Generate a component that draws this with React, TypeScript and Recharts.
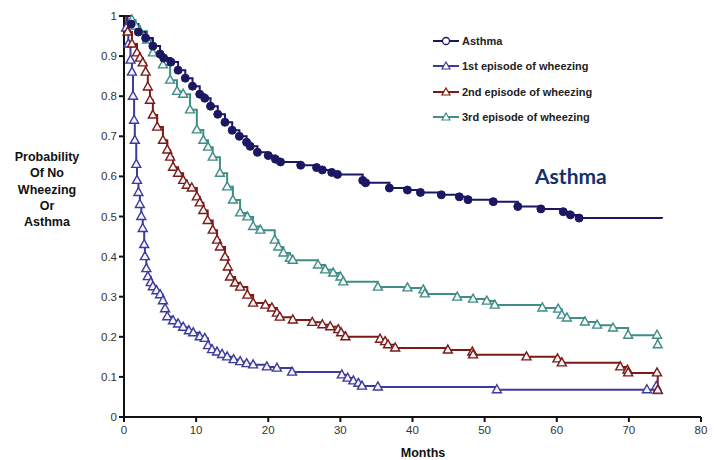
import { LineChart, Line, XAxis, YAxis, Legend } from "recharts";

// Kaplan-Meier style curves, [month, probability]
const asthma: [number, number][] = [
  [0, 1.0], [1, 0.98], [2, 0.96], [3, 0.945], [4, 0.925], [5, 0.905], [5.5, 0.895],
  [6.5, 0.885], [7.5, 0.865], [8.5, 0.845], [9.5, 0.825], [10.5, 0.805], [11.2, 0.795],
  [12, 0.775], [13, 0.755], [14, 0.735], [15, 0.715], [16, 0.7], [17, 0.685], [17.5, 0.675],
  [18.5, 0.66], [20, 0.652], [21, 0.643], [21.7, 0.636], [24.5, 0.628], [26.7, 0.622],
  [27.5, 0.616], [28.8, 0.61], [29.6, 0.605], [33.1, 0.59], [33.5, 0.584], [36.8, 0.571],
  [39.3, 0.566], [41.1, 0.56], [44, 0.554], [46.5, 0.549], [47.7, 0.542], [51.2, 0.537],
  [54.6, 0.525], [57.8, 0.519], [60.9, 0.512], [61.9, 0.504], [63.1, 0.496], [74.6, 0.495],
];

const firstEpisode: [number, number][] = [
  [0, 1.0], [0.3, 0.97], [0.6, 0.93], [0.9, 0.89], [1.1, 0.86], [1.25, 0.8], [1.4, 0.74],
  [1.5, 0.69], [1.7, 0.63], [1.8, 0.59], [2.0, 0.56], [2.2, 0.53], [2.4, 0.5], [2.6, 0.47],
  [2.8, 0.43], [2.9, 0.4], [3.1, 0.37], [3.3, 0.35], [3.7, 0.335], [4.0, 0.325], [4.5, 0.315],
  [5.0, 0.305], [5.4, 0.29], [5.7, 0.27], [6.0, 0.25], [6.8, 0.24], [7.5, 0.232], [8.2, 0.224],
  [9.0, 0.215], [9.6, 0.21], [10.5, 0.2], [11.2, 0.196], [11.65, 0.178], [12.2, 0.168],
  [12.9, 0.162], [13.6, 0.156], [14.3, 0.15], [15.2, 0.143], [16.1, 0.138], [17.0, 0.133],
  [17.9, 0.13], [19.8, 0.125], [21.2, 0.122], [23.3, 0.112], [30.2, 0.105], [31, 0.097],
  [31.8, 0.09], [32.5, 0.084], [33, 0.077], [35.2, 0.075], [51.7, 0.068], [72.5, 0.068],
  [73.8, 0.076], [74, 0.066],
];

const secondEpisode: [number, number][] = [
  [0, 1.0], [0.5, 0.96], [1.1, 0.93], [1.8, 0.908], [2.2, 0.895], [2.6, 0.883], [3.0, 0.86],
  [3.3, 0.823], [3.6, 0.79], [4.0, 0.753], [4.6, 0.723], [5.4, 0.69], [6.0, 0.666],
  [6.4, 0.648], [6.8, 0.623], [7.5, 0.608], [8.2, 0.59], [8.7, 0.578], [9.4, 0.571],
  [10.1, 0.549], [10.5, 0.534], [11.0, 0.515], [11.6, 0.49], [12.3, 0.466], [12.9, 0.441],
  [13.3, 0.424], [14.0, 0.399], [14.4, 0.374], [14.7, 0.349], [15.4, 0.334], [16.1, 0.324],
  [17.1, 0.304], [17.9, 0.284], [19.6, 0.279], [20.5, 0.272], [21.2, 0.259], [21.6, 0.249],
  [23.4, 0.242], [26.1, 0.236], [27.5, 0.23], [28.6, 0.225], [29.7, 0.218], [30.1, 0.21],
  [30.7, 0.2], [35.5, 0.194], [36.2, 0.188], [36.6, 0.18], [37.6, 0.172], [44.9, 0.167],
  [48.3, 0.162], [48.4, 0.155], [55.8, 0.15], [60.1, 0.145], [60.7, 0.135], [68.8, 0.125],
  [69.8, 0.117], [69.9, 0.11], [73.9, 0.11], [74, 0.067],
];

const thirdEpisode: [number, number][] = [
  [0, 1.0], [1.1, 0.99], [1.6, 0.975], [2.2, 0.962], [3.2, 0.94], [4.0, 0.908], [5.4, 0.878],
  [6.4, 0.84], [7.35, 0.812], [8.2, 0.805], [9.15, 0.766], [10.1, 0.716], [11.0, 0.69],
  [11.65, 0.673], [12.3, 0.648], [13.3, 0.608], [14.3, 0.574], [15.1, 0.541], [16.1, 0.509],
  [17.1, 0.499], [17.9, 0.475], [18.9, 0.466], [20.9, 0.441], [21.4, 0.424], [22.1, 0.409],
  [23.0, 0.396], [23.4, 0.391], [26.9, 0.379], [27.9, 0.367], [29.0, 0.359], [30.0, 0.349],
  [30.4, 0.337], [35.2, 0.324], [39.3, 0.322], [41.5, 0.317], [41.7, 0.307], [46.2, 0.299],
  [48.4, 0.294], [50.3, 0.289], [51.4, 0.279], [58.0, 0.272], [60.2, 0.269], [60.7, 0.254],
  [61.4, 0.247], [63.9, 0.237], [65.6, 0.229], [67.8, 0.222], [69.9, 0.204], [73.9, 0.204],
  [74, 0.18],
];

const xTicks = [0, 10, 20, 30, 40, 50, 60, 70, 80];
const yTicks = [0, 0.1, 0.2, 0.3, 0.4, 0.5, 0.6, 0.7, 0.8, 0.9, 1];
const yTitle = ["Probability", "Of No", "Wheezing", "Or", "Asthma"];

const series = [
  { name: "Asthma", data: asthma, color: "#1c1763", shape: "circle" },
  { name: "1st episode of wheezing", data: firstEpisode, color: "#3d3a9e", shape: "tri" },
  { name: "2nd episode of wheezing", data: secondEpisode, color: "#7c1b16", shape: "tri" },
  { name: "3rd episode of wheezing", data: thirdEpisode, color: "#3f8d85", shape: "tri" },
];

const toRows = (d: [number, number][]) => d.map(([m, p]) => ({ m, p }));

function makeDot(color: string, shape: string, len: number) {
  return (props: any) => {
    const { cx, cy, index } = props;
    if (index === 0 || cx == null) return <g key={index} />;
    if (shape === "circle") {
      if (index === len - 1) return <g key={index} />;
      return <circle key={index} cx={cx} cy={cy} r={4} fill={color} stroke={color} />;
    }
    return (
      <path
        key={index}
        d={`M${cx},${cy - 5}L${cx + 4.5},${cy + 3}L${cx - 4.5},${cy + 3}Z`}
        fill="#f4f4fa"
        stroke={color}
        strokeWidth={1.4}
      />
    );
  };
}

function LegendBox() {
  return (
    <div style={{ fontFamily: "Liberation Sans, Arial, sans-serif", fontWeight: 700, fontSize: 11, color: "#222" }}>
      {series.map((s) => (
        <div key={s.name} style={{ display: "flex", alignItems: "center", height: 25.5 }}>
          <svg width={28} height={12} style={{ marginRight: 2 }}>
            <line x1={1} y1={6} x2={27} y2={6} stroke={s.color} strokeWidth={2} />
            {s.shape === "circle" ? (
              <circle cx={14} cy={6} r={3.5} fill="#fff" stroke={s.color} strokeWidth={1.3} />
            ) : (
              <path d="M14,2L18,9L10,9Z" fill="#fff" stroke={s.color} strokeWidth={1.2} />
            )}
          </svg>
          <span>{s.name}</span>
        </div>
      ))}
    </div>
  );
}

export default function App() {
  const tickStyle = { fill: "#333", fontSize: 11.5, fontFamily: "Liberation Sans, Arial, sans-serif" };
  return (
    <div style={{ position: "absolute", left: 0, top: 0, width: 714, height: 460, background: "#fff" }}>
      <LineChart width={714} height={460} margin={{ top: 16, right: 13, bottom: 13, left: 94 }}>
        <XAxis
          type="number"
          dataKey="m"
          domain={[0, 80]}
          ticks={xTicks}
          height={30}
          stroke="#111"
          strokeWidth={2}
          tickSize={5}
          tickMargin={4}
          tick={tickStyle}
          allowDuplicatedCategory={false}
          label={{
            content: () => (
              <text x={423} y={457} textAnchor="middle" fontFamily="Liberation Sans, Arial, sans-serif" fontWeight={700} fontSize={12.5} fill="#111">
                Months
              </text>
            ),
          }}
        />
        <YAxis
          type="number"
          dataKey="p"
          domain={[0, 1]}
          ticks={yTicks}
          width={30}
          stroke="#111"
          strokeWidth={2}
          tickSize={5}
          tickMargin={2}
          tick={tickStyle}
          tickFormatter={(v) => String(v)}
          label={{
            content: () => (
              <text textAnchor="middle" fontFamily="Liberation Sans, Arial, sans-serif" fontWeight={700} fontSize={12.5} fill="#111">
                {yTitle.map((t, i) => (
                  <tspan key={t} x={47} y={161 + i * 16.3}>
                    {t}
                  </tspan>
                ))}
              </text>
            ),
          }}
        />
        <Legend
          verticalAlign="middle"
          align="center"
          layout="vertical"
          wrapperStyle={{ left: 432, top: 28, width: 220 }}
          content={() => <LegendBox />}
        />
        {[series[1], series[2], series[3], series[0]].map((s) => (
          <Line
            key={s.name}
            name={s.name}
            data={toRows(s.data)}
            dataKey="p"
            type="stepAfter"
            stroke={s.color}
            strokeWidth={2}
            dot={makeDot(s.color, s.shape, s.data.length)}
            activeDot={false}
            isAnimationActive={false}
          />
        ))}
      </LineChart>
      <div
        style={{
          position: "absolute",
          left: 535,
          top: 163,
          fontFamily: "Lato, Open Sans, sans-serif",
          fontWeight: 700,
          fontSize: 21,
          color: "#14306e",
        }}
      >
        Asthma
      </div>
    </div>
  );
}
